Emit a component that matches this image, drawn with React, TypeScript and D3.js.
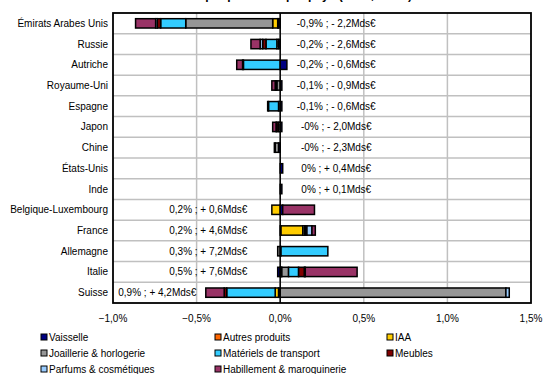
import React from "react";
import * as d3 from "d3";

// categories, top to bottom
const countries = [
  "Émirats Arabes Unis", "Russie", "Autriche", "Royaume-Uni", "Espagne", "Japon", "Chine",
  "États-Unis", "Inde", "Belgique-Luxembourg", "France", "Allemagne", "Italie", "Suisse",
];

const products = [
  "Vaisselle", "Autres produits", "IAA", "Joaillerie & horlogerie",
  "Matériels de transport", "Meubles", "Parfums & cosmétiques", "Habillement & maroquinerie",
];

const colors = ["#000080", "#FF6600", "#FFCC00", "#969696", "#33CCFF", "#800000", "#99CCFF", "#993366"];

// contributions in points of %, one array per product
const vaisselle = [-0.01, -0.01, 0.04, 0.01, 0.01, 0.01, -0.01, 0.015, 0.01, 0.015, 0.005, 0.005, -0.015, -0.01];
const autresProduits = [-0.005, 0, 0, 0, 0, 0, 0, 0, 0, 0, 0, 0, 0.005, 0];
const iaa = [-0.03, 0, 0, 0, 0, 0, 0, 0, 0, -0.05, 0.13, 0, 0.005, -0.02];
const joaillerie = [-0.52, -0.01, 0, -0.02, -0.01, -0.01, -0.02, 0, 0, 0, 0.01, -0.015, 0.04, 1.35];
const transport = [-0.15, -0.065, -0.22, 0, -0.06, 0, 0, 0, 0, 0, 0.005, 0.28, 0.06, -0.29];
const meubles = [-0.02, -0.02, -0.005, -0.005, 0, -0.01, -0.005, 0, 0, 0, 0.01, 0, 0.035, -0.015];
const parfums = [-0.01, -0.015, 0, -0.005, -0.005, -0.005, 0, 0, 0, 0, 0.03, 0, 0.005, 0.02];
const habillement = [-0.12, -0.055, -0.035, -0.02, 0, -0.02, 0, 0, 0, 0.19, 0.02, 0, 0.31, -0.11];

const series = [vaisselle, autresProduits, iaa, joaillerie, transport, meubles, parfums, habillement];

// text labels per country and where they sit (in % on the x axis, centre)
const labels = [
  "-0,9% ; - 2,2Mds€", "-0,2% ; - 2,6Mds€", "-0,2% ; - 0,6Mds€", "-0,1% ; - 0,9Mds€",
  "-0,1% ; - 0,6Mds€", "-0% ; - 2,0Mds€", "-0% ; - 2,3Mds€", "0% ; + 0,4Mds€", "0% ; + 0,1Mds€",
  "0,2% ; + 0,6Mds€", "0,2% ; + 4,6Mds€", "0,3% ; + 7,2Mds€", "0,5% ; + 7,6Mds€", "0,9% ; + 4,2Mds€",
];
const labelAt = [0.335, 0.335, 0.335, 0.335, 0.335, 0.335, 0.335, 0.335, 0.335, -0.43, -0.43, -0.43, -0.43, -0.735];

const xTicks = [-1, -0.5, 0, 0.5, 1, 1.5];

const font = "'Liberation Sans', Arial, sans-serif";

export default function App() {
  const width = 543;
  const height = 374;
  const plot = { left: 113, right: 531, top: 13, bottom: 303 };
  const fs = 10;

  const x = d3.scaleLinear().domain([-1, 1.5]).range([plot.left, plot.right]);
  const y = d3.scaleBand().domain(countries).range([plot.top, plot.bottom]).paddingInner(0.55).paddingOuter(0.275);
  const rowStep = (plot.bottom - plot.top) / countries.length;

  // build rows for the stack
  const rows = countries.map((c, i) => {
    const r: any = { country: c };
    products.forEach((p, k) => (r[p] = series[k][i]));
    return r;
  });
  const stacked = d3.stack().keys(products).offset(d3.stackOffsetDiverging)(rows);

  const fmt = (v: number) => d3.format(".1f")(v).replace(".", ",") + "%";

  return (
    <svg width={width} height={height} style={{ position: "absolute", left: 0, top: 0, background: "#fff" }}
      fontFamily={font}>
      {/* title, mostly cropped off the top as in the source */}
      <text x={271} y={-1} textAnchor="middle" fontSize={12} fontWeight="bold">
        Contribution par produit et par pays (en %, Mds€)
      </text>

      {/* grid */}
      {xTicks.slice(1, -1).map((t) => (
        <line key={"gx" + t} x1={x(t)} x2={x(t)} y1={plot.top} y2={plot.bottom} stroke="#c0c0c0" strokeWidth={1.5} />
      ))}
      {countries.slice(1).map((c, i) => (
        <line key={"gy" + c} x1={plot.left} x2={plot.right} y1={plot.top + rowStep * (i + 1)} y2={plot.top + rowStep * (i + 1)}
          stroke="#c0c0c0" strokeWidth={1.5} />
      ))}

      {/* bars */}
      {stacked.map((s, k) => (
        <g key={products[k]} fill={colors[k]} stroke="#000" strokeWidth={1.5}>
          {s.map((d, i) =>
            d[1] - d[0] === 0 ? null : (
              <rect key={i} x={x(Math.min(d[0], d[1]))} y={y(countries[i])!} width={Math.abs(x(d[1]) - x(d[0]))}
                height={y.bandwidth()} />
            )
          )}
        </g>
      ))}

      {/* zero line */}
      <line x1={x(0)} x2={x(0)} y1={plot.top} y2={plot.bottom} stroke="#000" strokeWidth={1.5} />

      {/* plot border */}
      <rect x={plot.left} y={plot.top} width={plot.right - plot.left} height={plot.bottom - plot.top}
        fill="none" stroke="#000" strokeWidth={1.8} />

      {/* value labels */}
      {labels.map((l, i) => (
        <text key={"l" + i} x={x(labelAt[i])} y={y(countries[i])! + y.bandwidth() / 2} dy="0.35em"
          textAnchor="middle" fontSize={fs} fill="#000">{l}</text>
      ))}

      {/* category labels */}
      {countries.map((c) => (
        <text key={"c" + c} x={plot.left - 5} y={y(c)! + y.bandwidth() / 2} dy="0.35em" textAnchor="end" fontSize={fs}>
          {c}
        </text>
      ))}

      {/* x axis labels */}
      {xTicks.map((t) => (
        <text key={"t" + t} x={x(t)} y={plot.bottom + 15} dy="0.35em" textAnchor="middle" fontSize={fs}>
          {fmt(t)}
        </text>
      ))}

      {/* legend */}
      {products.map((p, k) => {
        const col = k % 3;
        const row = Math.floor(k / 3);
        const lx = [41, 215, 387][col];
        const ly = 337 + row * 16;
        return (
          <g key={"lg" + p}>
            <rect x={lx} y={ly - 3} width={6} height={6} fill={colors[k]} stroke="#000" strokeWidth={1} />
            <text x={lx + 8} y={ly} dy="0.35em" fontSize={fs}>{p}</text>
          </g>
        );
      })}
    </svg>
  );
}
